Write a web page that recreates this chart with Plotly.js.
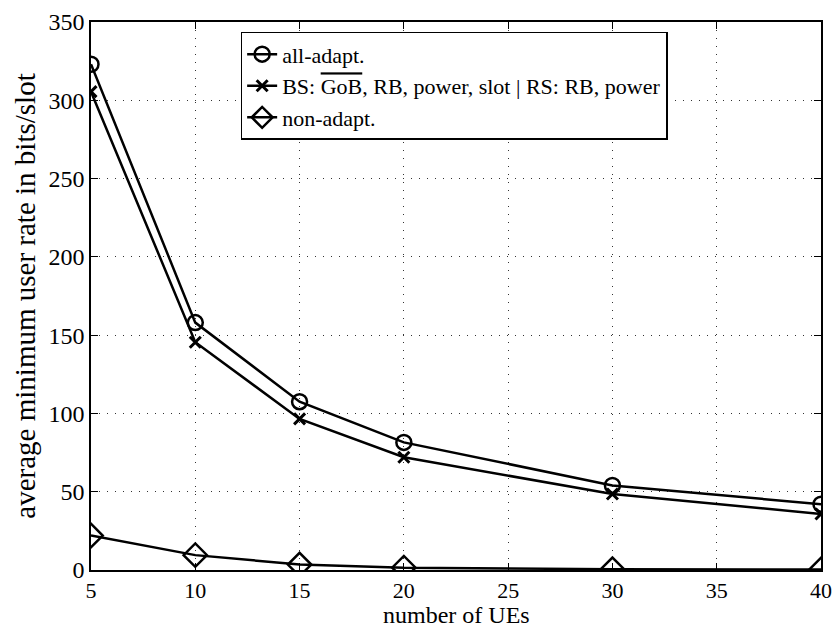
<!DOCTYPE html>
<html><head><meta charset="utf-8">
<script src="https://cdn.plot.ly/plotly-3.0.1.min.js"></script>
<style>html,body{margin:0;padding:0;background:#fff}</style>
</head><body><div id="chart" style="width:837px;height:629px"></div>
<script>
const numUEs = [5, 10, 15, 20, 30, 40];
const allAdapt = [323, 158, 107.5, 81.5, 54, 42];
const bsAdapt = [305.5, 145.5, 96.5, 72, 48.5, 35.8];
const nonAdapt = [22, 9.5, 3.5, 1.5, 0.5, 0.3];
const seriesNames = ['all-adapt.', 'BS: <span style="text-decoration:overline">GoB</span>, RB, power, slot | RS: RB, power', 'non-adapt.'];
const xTicks = [5, 10, 15, 20, 25, 30, 35, 40];
const yTicks = [0, 50, 100, 150, 200, 250, 300, 350];
const xTitle = 'number of UEs';
const yTitle = 'average minimum user rate in bits/slot';

const font = '"Liberation Serif", "DejaVu Serif", serif';
const line = {color: '#000', width: 2.5};
const traces = [
  {x: numUEs, y: allAdapt, name: seriesNames[0], mode: 'lines+markers', line: line,
   marker: {symbol: 'circle-open', size: 15, color: '#000', line: {width: 2.5, color: '#000'}}},
  {x: numUEs, y: bsAdapt, name: seriesNames[1], mode: 'lines+markers', line: line,
   marker: {symbol: 'x-thin-open', size: 11, color: '#000', line: {width: 3, color: '#000'}}},
  {x: numUEs, y: nonAdapt, name: seriesNames[2], mode: 'lines+markers', line: line,
   marker: {symbol: 'diamond-open', size: 18, color: '#000', line: {width: 2.5, color: '#000'}}}
];
const axisCommon = {
  showline: true, mirror: 'ticks', linecolor: '#000', linewidth: 1.5,
  ticks: 'inside', ticklen: 7, tickcolor: '#000', tickwidth: 1,
  showgrid: true, gridcolor: '#333', griddash: '1px,7px', gridwidth: 1,
  zeroline: false, tickfont: {family: font, size: 24, color: '#000'}
};
const layout = {
  width: 837, height: 629,
  margin: {l: 91, r: 16, t: 22, b: 59},
  paper_bgcolor: '#fff', plot_bgcolor: '#fff',
  font: {family: font, color: '#000'},
  showlegend: true,
  legend: {x: 0.205, y: 0.982, xanchor: 'left', yanchor: 'top',
    bordercolor: '#000', borderwidth: 1.5, bgcolor: '#fff',
    font: {family: font, size: 22, color: '#000'}, tracegroupgap: 0},
  xaxis: Object.assign({}, axisCommon, {range: [5, 40], tickvals: xTicks, ticktext: xTicks.map(String),
    tickfont: {family: font, size: 22, color: '#000'}}),
  yaxis: Object.assign({}, axisCommon, {range: [0, 350], tickvals: yTicks, ticktext: yTicks.map(String),
    title: {text: yTitle, font: {family: font, size: 29, color: '#000'}, standoff: 4}}),
  annotations: [{text: xTitle, xref: 'paper', yref: 'paper', x: 0.5, y: -0.1095,
    xanchor: 'center', yanchor: 'bottom', showarrow: false,
    font: {family: font, size: 24, color: '#000'}}]
};
Plotly.newPlot('chart', traces, layout, {displayModeBar: false});
</script></body></html>
